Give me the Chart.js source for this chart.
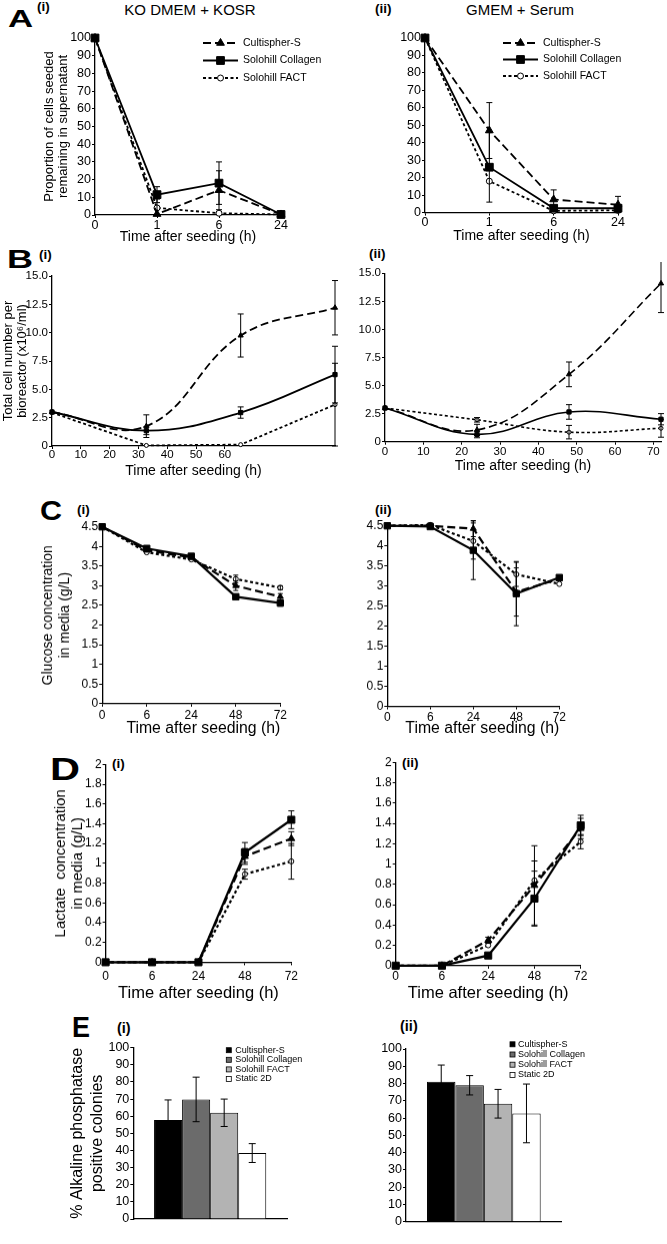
<!DOCTYPE html>
<html>
<head>
<meta charset="utf-8">
<script src="https://cdn.jsdelivr.net/npm/chart.js@4.4.1/dist/chart.umd.min.js"></script>
<style>
  body { margin: 0; width: 667px; height: 1244px; background: #fff; position: relative; overflow: hidden;
         font-family: "Liberation Sans", Arial, sans-serif; }
  canvas { position: absolute; }
  .t { position: absolute; line-height: 1; white-space: nowrap; color: #000; }
  .big { font-weight: bold; transform-origin: 0 0; }
  .num { font-weight: bold; font-size: 13.5px; }
  .head { font-size: 15px; width: 200px; text-align: center; }
</style>
</head>
<body>
<div class="t big" style="left:8px;top:7px;font-size:24px;transform:scaleX(1.45)">A</div>
<div class="t num" style="left:37px;top:0px">(i)</div>
<div class="t head" style="left:90px;top:1.5px">KO DMEM + KOSR</div>
<div class="t num" style="left:375px;top:2px">(ii)</div>
<div class="t head" style="left:420px;top:1.5px">GMEM + Serum</div>

<div class="t big" style="left:7px;top:247px;font-size:25px;transform:scaleX(1.44)">B</div>
<div class="t num" style="left:39px;top:247.5px">(i)</div>
<div class="t num" style="left:369px;top:246.5px">(ii)</div>

<div class="t big" style="left:40px;top:496.5px;font-size:28px;transform:scaleX(1.09)">C</div>
<div class="t num" style="left:77px;top:502.5px">(i)</div>
<div class="t num" style="left:375px;top:502.5px">(ii)</div>

<div class="t big" style="left:50px;top:754px;font-size:31px;transform:scaleX(1.34)">D</div>
<div class="t num" style="left:112px;top:756.5px">(i)</div>
<div class="t num" style="left:402px;top:755.5px">(ii)</div>

<div class="t big" style="left:72px;top:1013px;font-size:29px;transform:scaleX(0.93)">E</div>
<div class="t num" style="left:117px;top:1020.5px;font-size:14.5px">(i)</div>
<div class="t num" style="left:400px;top:1018.5px;font-size:14.5px">(ii)</div>

<canvas id="a1"></canvas>
<canvas id="a2"></canvas>
<canvas id="b1"></canvas>
<canvas id="b2"></canvas>
<canvas id="c1"></canvas>
<canvas id="c2"></canvas>
<canvas id="d1"></canvas>
<canvas id="d2"></canvas>
<canvas id="e1"></canvas>
<canvas id="e2"></canvas>

<script>
// Data ==========================
const seriesNames = ["Cultispher-S", "Solohill Collagen", "Solohill FACT", "Static 2D"];

// A: proportion of seeded cells left in supernatant (%)
const timesA = ["0", "1", "6", "24"];
const cultA1 = [100, 0.5, 14, 0.3];   const cultA1Err = [0, 0, 11, 0];
const collA1 = [100, 11.5, 18, 0.3];  const collA1Err = [0, 4.5, 12, 0];
const factA1 = [100, 4, 1, 0.3];      const factA1Err = [0, 5, 0, 0];
const cultA2 = [100, 47, 7.5, 4.5];   const cultA2Err = [0, 16, 5.5, 4.8];
const collA2 = [100, 26, 2.5, 2.5];   const collA2Err = [0, 20, 0, 0];
const factA2 = [100, 18, 1, 1.3];     const factA2Err = [0, 0, 0, 0];

// B: total cell number (x10^6/ml), hours
const hoursB = [0, 24, 48, 72];
const cultB1 = [3.0, 1.75, 9.75, 12.2]; const cultB1Err = [0, 1.0, 1.9, 2.4];
const collB1 = [3.0, 1.35, 2.95, 6.3];  const collB1Err = [0, 0.35, 0.5, 2.5];
const factB1 = [2.95, 0.05, 0.12, 3.65]; const factB1Err = [0, 0, 0, 3.65];
const cultB2 = [3.0, 1.05, 6.0, 14.1];  const cultB2Err = [0, 0.5, 1.1, 2.6];
const collB2 = [3.0, 0.65, 2.65, 2.0];  const collB2Err = [0, 0.3, 0.65, 0.5];
const factB2 = [3.0, 1.95, 0.85, 1.2];  const factB2Err = [0, 0.2, 0.6, 0.8];
// printed tick labels of B(i) do not line up with its data: one printed unit = 0.733 h
const b1TickLabels = [0, 10, 20, 30, 40, 50, 60];
const b1TickHours = 0.733;

// C: glucose (g/L)
const timesCD = ["0", "6", "24", "48", "72"];
const cultC1 = [4.5, 3.9, 3.72, 3.0, 2.72];   const cultC1Err = [0, 0, 0, 0.12, 0.08];
const collC1 = [4.5, 3.95, 3.75, 2.72, 2.56]; const collC1Err = [0, 0.03, 0.03, 0.04, 0.08];
const factC1 = [4.5, 3.85, 3.67, 3.17, 2.95]; const factC1Err = [0, 0, 0, 0.1, 0.05];
const cultC2 = [4.5, 4.5, 4.43, 2.85, 3.18];  const cultC2Err = [0, 0, 0.2, 0.6, 0];
const collC2 = [4.5, 4.48, 3.89, 2.81, 3.21]; const collC2Err = [0, 0, 0.73, 0.8, 0];
const factC2 = [4.5, 4.52, 4.12, 3.29, 3.05]; const factC2Err = [0, 0.05, 0.45, 0.3, 0];

// D: lactate (g/L)
const cultD1 = [0, 0, 0, 1.07, 1.25]; const cultD1Err = [0, 0, 0, 0.08, 0.07];
const collD1 = [0, 0, 0, 1.11, 1.44]; const collD1Err = [0, 0, 0, 0.1, 0.09];
const factD1 = [0, 0, 0, 0.89, 1.02]; const factD1Err = [0, 0, 0, 0.05, 0.18];
const cultD2 = [0, 0, 0.25, 0.79, 1.35]; const cultD2Err = [0, 0, 0.03, 0.39, 0.1];
const collD2 = [0, 0, 0.1, 0.66, 1.38];  const collD2Err = [0, 0, 0, 0.27, 0.1];
const factD2 = [0, 0, 0.2, 0.84, 1.22];  const factD2Err = [0, 0, 0, 0.19, 0.07];

// E: % alkaline phosphatase positive colonies
const alpE1 = [57.8, 69.8, 62, 38.5]; const alpE1Err = [11.7, 13, 8, 5.5];
const alpE2 = [81, 79, 68.3, 62.7];   const alpE2Err = [9.7, 5.6, 8.3, 17];

// Styles ==========================
const black = "#000";
const fontFamily = '"Liberation Sans", Arial, sans-serif';
Chart.defaults.font.family = fontFamily;
Chart.defaults.color = black;
Chart.defaults.animation = false;

const seriesStyle = [
    { dash: [8, 4], point: "triangle", fill: black },
    { dash: [], point: "rect", fill: black },
    { dash: [3, 2.5], point: "circle", fill: "#fff" }
];
const barFills = ["#000", "#6b6b6b", "#b3b3b3", "#fff"];

function drawMarker(ctx, style, x, y, r) {
    ctx.beginPath();
    if (style === "triangle") {
        for (let k = 0; k < 3; k++) {
            const a = k * 2 * Math.PI / 3;
            ctx[k ? "lineTo" : "moveTo"](x + Math.sin(a) * r, y - Math.cos(a) * r);
        }
        ctx.closePath();
    } else if (style === "rect") {
        const s = r * Math.SQRT1_2;
        ctx.rect(x - s, y - s, 2 * s, 2 * s);
    } else {
        ctx.arc(x, y, r, 0, 2 * Math.PI);
    }
    ctx.fill();
    ctx.stroke();
}

// Plugins ==========================
const errorBars = {
    id: "errorBars",
    afterDatasetsDraw(chart, args, o) {
        const ctx = chart.ctx, y = chart.scales.y;
        ctx.save();
        ctx.strokeStyle = black;
        ctx.lineWidth = 1;
        ctx.setLineDash([]);
        chart.data.datasets.forEach((ds, i) => {
            if (!ds.err) return;
            chart.getDatasetMeta(i).data.forEach((el, j) => {
                const e = ds.err[j];
                if (!e) return;
                const d = ds.data[j];
                const v = typeof d === "object" ? d.y : d;
                const top = y.getPixelForValue(v + e);
                const bot = y.getPixelForValue(Math.max(v - e, 0));
                ctx.beginPath();
                ctx.moveTo(el.x, top); ctx.lineTo(el.x, bot);
                ctx.moveTo(el.x - o.cap, top); ctx.lineTo(el.x + o.cap, top);
                ctx.moveTo(el.x - o.cap, bot); ctx.lineTo(el.x + o.cap, bot);
                ctx.stroke();
            });
        });
        ctx.restore();
    }
};

const seriesLegend = {
    id: "seriesLegend",
    afterDraw(chart, args, o) {
        const { ctx, chartArea } = chart;
        ctx.save();
        ctx.font = o.size + "px " + fontFamily;
        ctx.textBaseline = "middle";
        ctx.strokeStyle = black;
        chart.data.datasets.forEach((ds, i) => {
            const x = chartArea.left + o.x;
            const y = chartArea.top + o.y + i * o.rowH;
            let tx;
            if (o.box) {
                ctx.lineWidth = 0.8;
                ctx.fillStyle = ds.backgroundColor;
                ctx.fillRect(x, y - o.box / 2, o.box, o.box);
                ctx.strokeRect(x, y - o.box / 2, o.box, o.box);
                tx = x + o.box + o.gap;
            } else {
                ctx.lineWidth = ds.borderWidth;
                ctx.setLineDash(ds.borderDash);
                ctx.beginPath();
                ctx.moveTo(x, y); ctx.lineTo(x + o.len, y);
                ctx.stroke();
                ctx.setLineDash([]);
                ctx.lineWidth = 1;
                ctx.fillStyle = ds.pointBackgroundColor;
                drawMarker(ctx, ds.pointStyle, x + o.len / 2, y, ds.pointRadius);
                tx = x + o.len + o.gap;
            }
            ctx.fillStyle = black;
            ctx.fillText(ds.label, tx, y);
        });
        ctx.restore();
    }
};

// Helpers ==========================
function place(id, box) {
    const c = document.getElementById(id);
    c.width = box.w;
    c.height = box.h;
    c.style.left = box.x + "px";
    c.style.top = box.y + "px";
    c.style.width = box.w + "px";
    c.style.height = box.h + "px";
    return c;
}

function axisLook(fontSize, pad) {
    return {
        border: { display: true, color: black, width: 1.3 },
        grid: { display: true, drawOnChartArea: false, color: black, tickLength: 3 },
        ticks: { color: black, font: { size: fontSize, lineHeight: 1 }, padding: pad, maxRotation: 0, autoSkip: false }
    };
}

function lineChart(id, p) {
    const box = p.box, area = p.area;
    const canvas = place(id, box);

    const datasets = p.series.map((s, i) => ({
        label: seriesNames[i],
        data: p.hours ? p.hours.map((h, j) => ({ x: h, y: s.data[j] })) : s.data,
        err: s.err,
        borderColor: black,
        borderWidth: p.lineW,
        borderDash: seriesStyle[i].dash,
        pointStyle: seriesStyle[i].point,
        pointRadius: p.pointR[i],
        pointBackgroundColor: seriesStyle[i].fill,
        pointBorderColor: black,
        pointBorderWidth: 1,
        tension: p.tension ? p.tension[i] : 0,
        clip: false
    }));

    const x = axisLook(p.tickFont, p.xPad);
    if (p.hours) {
        Object.assign(x, { type: "linear", min: 0, max: 72 });
        x.ticks.stepSize = 10;
        x.ticks.includeBounds = false;
        if (p.printedTicks) {
            x.afterBuildTicks = s => { s.ticks = p.printedTicks.map(v => ({ value: v * p.printedStep })); };
            x.ticks.callback = v => String(Math.round(v / p.printedStep));
        }
    } else {
        Object.assign(x, { type: "category", offset: false });
    }
    x.title = { display: true, text: "Time after seeding (h)", align: p.xTitleAlign || "center",
                font: { size: p.xTitleFont, lineHeight: 1.2 }, padding: 0 };
    x.afterFit = s => { s.height = box.y + box.h - area.b; };

    const y = axisLook(p.tickFont, 1);
    Object.assign(y, { min: 0, max: p.yMax });
    y.ticks.stepSize = p.yStep;
    y.ticks.callback = p.yFmt || (v => String(+v.toFixed(2)));
    y.title = p.yTitle
        ? { display: true, text: p.yTitle, font: { size: p.yTitleFont, lineHeight: p.yTitleLH }, padding: 0 }
        : { display: false };
    y.afterFit = s => { s.width = area.l - box.x; };

    new Chart(canvas, {
        type: "line",
        data: { labels: p.labels, datasets },
        options: {
            responsive: false,
            layout: { padding: { left: 0, top: area.t - box.y, right: box.x + box.w - area.r, bottom: 0 } },
            plugins: {
                legend: { display: false },
                tooltip: { enabled: false },
                errorBars: { cap: p.cap },
                seriesLegend: p.legend || false
            },
            scales: { x, y }
        },
        plugins: [errorBars, seriesLegend]
    });
}

function barChart(id, p) {
    const box = p.box, area = p.area;
    const canvas = place(id, box);

    const datasets = p.values.map((v, i) => ({
        label: seriesNames[i],
        data: [v],
        err: [p.errs[i]],
        backgroundColor: barFills[i],
        borderColor: black,
        borderWidth: 1,
        barPercentage: 1,
        categoryPercentage: 0.73
    }));

    const x = {
        type: "category",
        border: { display: true, color: black, width: 1.3 },
        grid: { display: false },
        ticks: { display: false },
        afterFit: s => { s.height = box.y + box.h - area.b; }
    };
    const y = axisLook(p.tickFont, 1);
    Object.assign(y, { min: 0, max: 100 });
    y.ticks.stepSize = 10;
    y.title = p.yTitle
        ? { display: true, text: p.yTitle, font: { size: 16, lineHeight: 1.25 }, padding: 0 }
        : { display: false };
    y.afterFit = s => { s.width = area.l - box.x; };

    new Chart(canvas, {
        type: "bar",
        data: { labels: [""], datasets },
        options: {
            responsive: false,
            layout: { padding: { left: 0, top: area.t - box.y, right: box.x + box.w - area.r, bottom: 0 } },
            plugins: {
                legend: { display: false },
                tooltip: { enabled: false },
                errorBars: { cap: 3.5 },
                seriesLegend: p.legend
            },
            scales: { x, y }
        },
        plugins: [errorBars, seriesLegend]
    });
}

// Panels ==========================
lineChart("a1", {
    box: { x: 42, y: 26, w: 290, h: 220 }, area: { l: 95, t: 38, r: 281, b: 215 },
    labels: timesA,
    series: [{ data: cultA1, err: cultA1Err }, { data: collA1, err: collA1Err }, { data: factA1, err: factA1Err }],
    yMax: 100, yStep: 10, tickFont: 12.5, xPad: 1,
    yTitle: ["Proportion of cells seeded", "remaining in supernatant"], yTitleFont: 13, yTitleLH: 14 / 13,
    xTitleFont: 14, lineW: 1.8, pointR: [4.5, 5.5, 3], cap: 3,
    legend: { x: 108, y: 5, rowH: 17.5, len: 35, gap: 5, size: 10.5 }
});

lineChart("a2", {
    box: { x: 395, y: 26, w: 265, h: 219.4 }, area: { l: 425, t: 38, r: 618, b: 213 },
    labels: timesA,
    series: [{ data: cultA2, err: cultA2Err }, { data: collA2, err: collA2Err }, { data: factA2, err: factA2Err }],
    yMax: 100, yStep: 10, tickFont: 12.5, xPad: 1,
    xTitleFont: 14, lineW: 1.8, pointR: [4.5, 5.5, 3], cap: 3,
    legend: { x: 78, y: 5, rowH: 16.5, len: 35, gap: 5, size: 10.5 }
});

const fmtB = v => (v === 0 ? "0" : v.toFixed(1));

lineChart("b1", {
    box: { x: 1, y: 264, w: 344, h: 216 }, area: { l: 52, t: 276, r: 335, b: 446 },
    hours: hoursB, printedTicks: b1TickLabels, printedStep: b1TickHours,
    series: [{ data: cultB1, err: cultB1Err }, { data: collB1, err: collB1Err }, { data: factB1, err: factB1Err }],
    yMax: 15, yStep: 2.5, yFmt: fmtB, tickFont: 11.5, xPad: 0,
    yTitle: ["Total cell number per", "bioreactor (x10\u2076/ml)"], yTitleFont: 13, yTitleLH: 14 / 13,
    xTitleFont: 14, lineW: 1.8, pointR: [3, 3, 2], cap: 3, tension: [0.4, 0.4, 0]
});

lineChart("b2", {
    box: { x: 350, y: 262, w: 316, h: 213 }, area: { l: 385, t: 273.3, r: 663, b: 441.7 },
    hours: hoursB,
    series: [{ data: cultB2, err: cultB2Err }, { data: collB2, err: collB2Err }, { data: factB2, err: factB2Err }],
    yMax: 15, yStep: 2.5, yFmt: fmtB, tickFont: 11.5, xPad: 1,
    xTitleFont: 14, lineW: 1.6, pointR: [3, 3, 2], cap: 3, tension: [0.4, 0.4, 0.4]
});

lineChart("c1", {
    box: { x: 39.5, y: 515, w: 250, h: 222.5 }, area: { l: 101.7, t: 526.7, r: 280, b: 703.3 },
    labels: timesCD,
    series: [{ data: cultC1, err: cultC1Err }, { data: collC1, err: collC1Err }, { data: factC1, err: factC1Err }],
    yMax: 4.5, yStep: 0.5, tickFont: 12, xPad: 3,
    yTitle: ["Glucose concentration", "in media (g/L)"], yTitleFont: 14, yTitleLH: 17 / 14,
    xTitleFont: 15.8, xTitleAlign: "end", lineW: 2.2, pointR: [3.5, 4.5, 2.5], cap: 2.5
});

lineChart("c2", {
    box: { x: 355, y: 514, w: 215, h: 223.5 }, area: { l: 387.3, t: 525.7, r: 559.3, b: 706 },
    labels: timesCD,
    series: [{ data: cultC2, err: cultC2Err }, { data: collC2, err: collC2Err }, { data: factC2, err: factC2Err }],
    yMax: 4.5, yStep: 0.5, tickFont: 12, xPad: 2,
    xTitleFont: 15.8, xTitleAlign: "end", lineW: 2.2, pointR: [3.5, 4.5, 2.5], cap: 2.5
});

lineChart("d1", {
    box: { x: 53.4, y: 752, w: 250, h: 250.9 }, area: { l: 106, t: 764.3, r: 293.3, b: 962.3 },
    labels: timesCD,
    series: [{ data: cultD1, err: cultD1Err }, { data: collD1, err: collD1Err }, { data: factD1, err: factD1Err }],
    yMax: 2, yStep: 0.2, tickFont: 12, xPad: 5,
    yTitle: ["Lactate  concentration", "in media (g/L)"], yTitleFont: 15, yTitleLH: 16.6 / 15,
    xTitleFont: 16.5, lineW: 2.2, pointR: [4, 5, 2.5], cap: 3
});

lineChart("d2", {
    box: { x: 360, y: 750, w: 230, h: 252.9 }, area: { l: 395.7, t: 762.3, r: 580.7, b: 965.7 },
    labels: timesCD,
    series: [{ data: cultD2, err: cultD2Err }, { data: collD2, err: collD2Err }, { data: factD2, err: factD2Err }],
    yMax: 2, yStep: 0.2, tickFont: 12, xPad: 2,
    xTitleFont: 16.5, lineW: 2.2, pointR: [4, 5, 2.5], cap: 3
});

barChart("e1", {
    box: { x: 68, y: 1036, w: 240, h: 195 }, area: { l: 133.3, t: 1047.7, r: 287, b: 1219 },
    values: alpE1, errs: alpE1Err, tickFont: 12.5,
    yTitle: ["% Alkaline phosphatase", "positive colonies"],
    legend: { box: 5, x: 93, y: 2.5, rowH: 9.6, gap: 4, size: 9 }
});

barChart("e2", {
    box: { x: 370, y: 1036, w: 220, h: 200 }, area: { l: 406, t: 1049, r: 561.7, b: 1221.7 },
    values: alpE2, errs: alpE2Err, tickFont: 12.5,
    legend: { box: 5, x: 104, y: -4.7, rowH: 10.2, gap: 3, size: 9 }
});
</script>
</body>
</html>
